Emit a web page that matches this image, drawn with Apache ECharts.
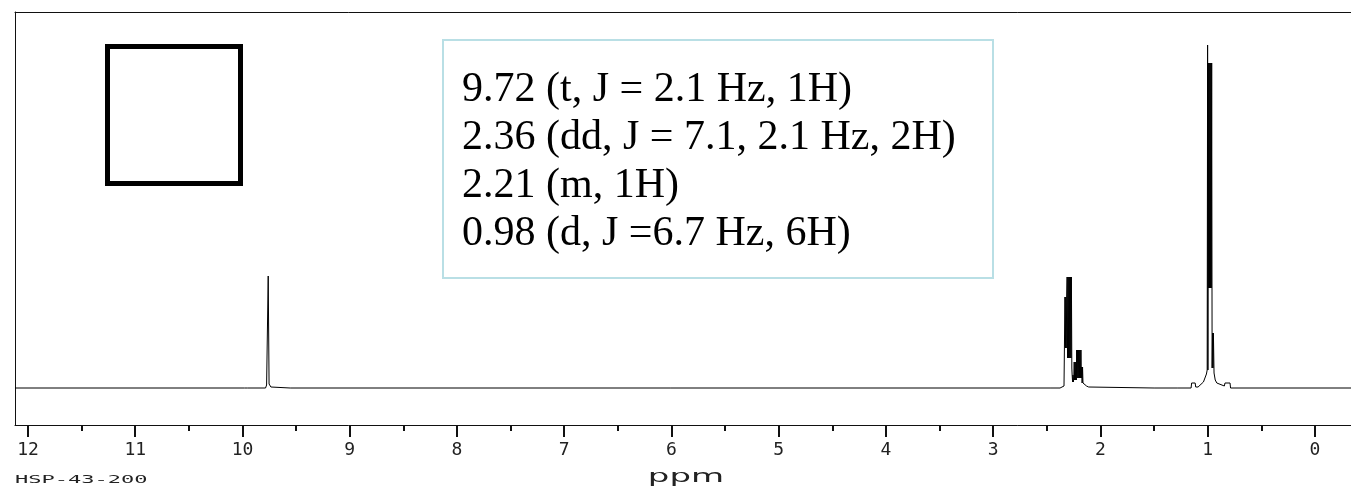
<!DOCTYPE html>
<html>
<head>
<meta charset="utf-8">
<script src="https://cdn.jsdelivr.net/npm/echarts@6/dist/echarts.min.js"></script>
<style>
  html, body { margin: 0; padding: 0; background: #fff; }
  #chart { width: 1351px; height: 488px; }
</style>
</head>
<body>
<div id="chart"></div>
<script>
// axis range (ppm) and ticks
var ppmLeft = 12.121;
var ppmRight = -0.336;
var majorTicks = [0, 1, 2, 3, 4, 5, 6, 7, 8, 9, 10, 11, 12];
var minorTicks = [0.5, 1.5, 2.5, 3.5, 4.5, 5.5, 6.5, 7.5, 8.5, 9.5, 10.5, 11.5];

// spectrum (shift in ppm, intensity in arbitrary units)
var aldehydePpm = [9.98, 9.967, 9.955, 9.785, 9.775, 9.765, 9.760, 9.756, 9.752, 9.745, 9.735, 9.72, 9.555, 9.548, 9.54];
var aldehydeInt = [0, 1, 0, 0, 3, 5, 112, 112, 4, 3, 1, 0, 0, 1, 0];

var methinePpm = [2.47, 2.464, 2.457, 2.377, 2.370, 2.340, 2.333,
  2.331, 2.327, 2.323, 2.319, 2.315, 2.311, 2.307, 2.303, 2.299, 2.295, 2.291, 2.287, 2.283, 2.279, 2.275, 2.271,
  2.267, 2.264, 2.260, 2.256, 2.252, 2.248, 2.245, 2.241, 2.237, 2.233, 2.229, 2.225,
  2.222, 2.218, 2.214, 2.210, 2.206, 2.202, 2.198, 2.194, 2.190, 2.186, 2.182, 2.178,
  2.175, 2.171, 2.167, 2.163, 2.160, 2.150, 2.13, 2.11, 2.10];
var methineInt = [0, 1, 0, 0, 2, 2, 3,
  91, 40, 91, 40, 91, 111, 30, 111, 30, 111, 30, 111, 30, 111, 30, 111,
  20, 13, 6, 13, 6, 13, 26, 8, 26, 8, 26, 8,
  38, 10, 38, 10, 38, 10, 38, 10, 38, 10, 38, 10,
  21, 5, 21, 5, 3, 3, 2, 1, 0];

var methylPpm = [1.50, 1.492, 1.485, 1.285, 1.277, 1.27,
  1.155, 1.150, 1.117, 1.112, 1.09, 1.072, 1.04, 1.025, 1.012, 1.005,
  1.001, 0.998, 0.995, 0.991, 0.987, 0.983, 0.979, 0.975, 0.971, 0.967, 0.963,
  0.959, 0.955, 0.951, 0.947, 0.943, 0.941, 0.93, 0.915, 0.90, 0.845, 0.839, 0.792, 0.787];
var methylInt = [0, 1, 0, 0, 1, 0,
  0, 5, 5, 1, 1, 3, 6, 8, 14, 18,
  343, 18, 325, 100, 325, 100, 325, 100, 325, 100, 325,
  20, 55, 20, 55, 55, 15, 8, 5, 3, 2, 5, 5, 0];

// peak list
var peakLines = [
  '9.72 (t, J = 2.1 Hz, 1H)',
  '2.36 (dd, J = 7.1, 2.1 Hz, 2H)',
  '2.21 (m, 1H)',
  '0.98 (d, J =6.7 Hz, 6H)'
];
var sampleId = 'HSP-43-200';
var axisName = 'ppm';

function zip(ppm, val) {
  var out = [];
  for (var i = 0; i < ppm.length; i++) out.push([ppm[i], val[i]]);
  return out;
}

var spectrum = [[ppmLeft, 0]]
  .concat(zip(aldehydePpm, aldehydeInt))
  .concat(zip(methinePpm, methineInt))
  .concat(zip(methylPpm, methylInt))
  .concat([[ppmRight, 0]]);

var myChart = echarts.init(document.getElementById('chart'));
var tickFont = '"DejaVu Sans Mono", monospace';

myChart.setOption({
  animation: false,
  backgroundColor: '#fff',
  grid: { left: 15, right: 0, top: 12, bottom: 63 },
  xAxis: [
    {
      type: 'value',
      inverse: true,
      min: ppmRight,
      max: ppmLeft,
      position: 'bottom',
      axisLine: { show: true, onZero: false, lineStyle: { color: '#111', width: 1 } },
      axisTick: { show: true, customValues: majorTicks, length: 12, lineStyle: { color: '#111', width: 2 } },
      axisLabel: { show: true, customValues: majorTicks, margin: 16, color: '#222', fontSize: 18, fontFamily: tickFont },
      splitLine: { show: false }
    },
    {
      type: 'value',
      inverse: true,
      min: ppmRight,
      max: ppmLeft,
      position: 'bottom',
      axisLine: { show: false, onZero: false },
      axisTick: { show: true, customValues: minorTicks, length: 6, lineStyle: { color: '#111', width: 2 } },
      axisLabel: { show: false },
      splitLine: { show: false }
    },
    {
      type: 'value',
      inverse: true,
      min: ppmRight,
      max: ppmLeft,
      position: 'top',
      axisLine: { show: true, onZero: false, lineStyle: { color: '#111', width: 1 } },
      axisTick: { show: false },
      axisLabel: { show: false },
      splitLine: { show: false }
    }
  ],
  yAxis: {
    type: 'value',
    min: -37,
    max: 376,
    position: 'left',
    axisLine: { show: true, onZero: false, lineStyle: { color: '#111', width: 1 } },
    axisTick: { show: false },
    axisLabel: { show: false },
    splitLine: { show: false }
  },
  series: [
    {
      type: 'line',
      xAxisIndex: 0,
      data: spectrum,
      showSymbol: false,
      lineStyle: { color: '#000', width: 1 },
      z: 3
    }
  ],
  graphic: [
    {
      type: 'rect',
      shape: { x: 107.5, y: 46.5, width: 133, height: 137 },
      style: { fill: 'none', stroke: '#000', lineWidth: 5 }
    },
    {
      type: 'rect',
      shape: { x: 443, y: 40, width: 550, height: 238 },
      style: { fill: '#fff', stroke: '#b9dfe5', lineWidth: 2 },
      z: 10
    },
    {
      type: 'text',
      x: 462,
      y: 66,
      z: 11,
      style: {
        text: peakLines.join('\n'),
        font: '42px "Liberation Serif", "Times New Roman", serif',
        fill: '#000',
        lineHeight: 48,
        textVerticalAlign: 'top'
      }
    },
    {
      type: 'text',
      x: 686,
      y: 478,
      scaleX: 2,
      style: {
        text: axisName,
        font: '17px "DejaVu Sans", sans-serif',
        fill: '#222',
        textAlign: 'center',
        textVerticalAlign: 'middle'
      }
    },
    {
      type: 'text',
      x: 15,
      y: 480,
      scaleX: 2.2,
      style: {
        text: sampleId,
        font: '10px ' + tickFont,
        fill: '#222',
        textAlign: 'left',
        textVerticalAlign: 'middle'
      }
    }
  ]
});

window.addEventListener('resize', function () { myChart.resize(); });
</script>
</body>
</html>
